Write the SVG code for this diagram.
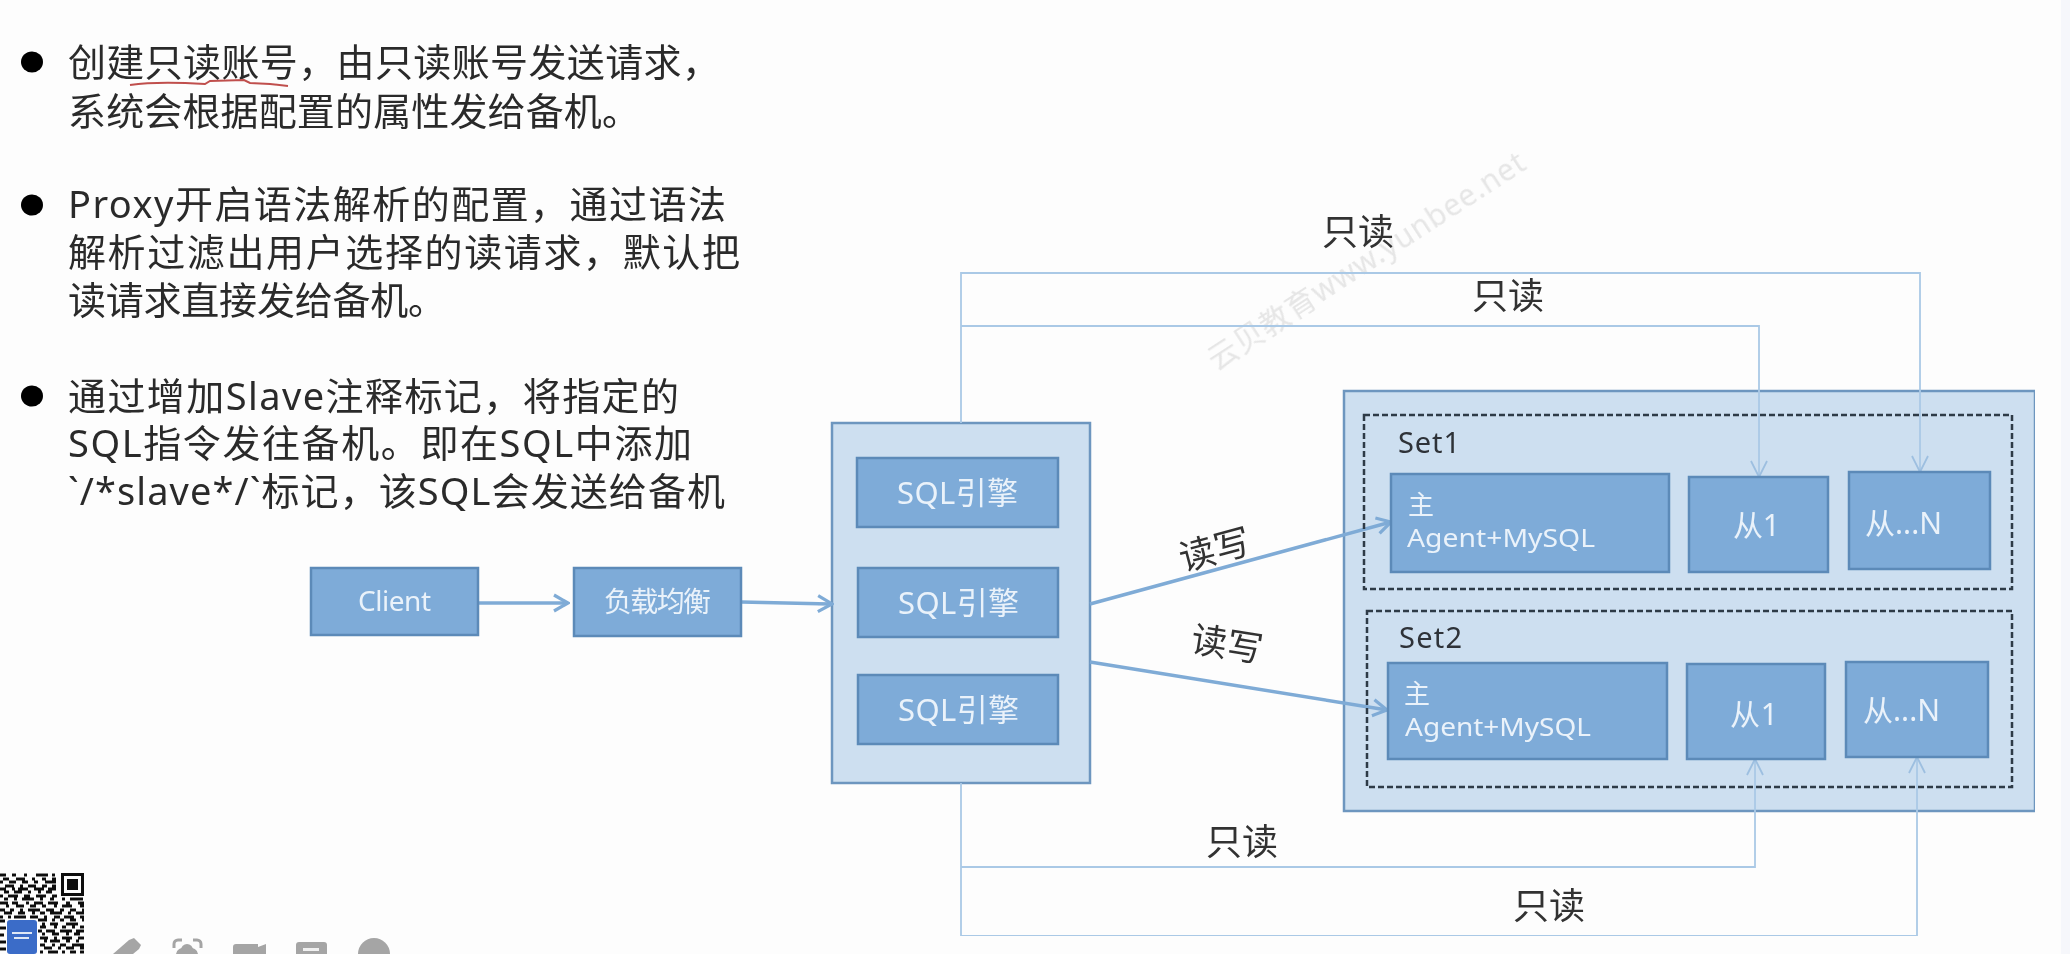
<svg xmlns="http://www.w3.org/2000/svg" width="2070" height="954" viewBox="0 0 2070 954">
<defs>
<style>
text{font-family:"Noto Sans","Noto Sans CJK SC",sans-serif}
.body{font-size:38px;fill:#2b2b2b}
.lbl{font-size:36px;fill:#333;text-anchor:middle}
.box{fill:#7eabd8;stroke:#5c8ab8;stroke-width:2.5}
.pale{fill:#cddff0;stroke:#6d96bf;stroke-width:2.5}
.dash{fill:none;stroke:#2f3a46;stroke-width:2.5;stroke-dasharray:6 3}
.w{font-size:28px;fill:#eaf2fa}
.m{font-size:26px;fill:#eaf2fa}
.e{font-size:31px;fill:#eaf2fa}
.s{font-size:30px;fill:#eaf2fa}
.set{font-size:29px;fill:#2f3338}
.thin{fill:none;stroke:#aac9e6;stroke-width:1.8}
.thick{fill:none;stroke:#7fabd6;stroke-width:3.5}
.ico{fill:#a5a5a5}
</style>
<marker id="ah" viewBox="0 0 20 20" refX="18" refY="10" markerWidth="20" markerHeight="20" markerUnits="userSpaceOnUse" orient="auto"><path d="M4 2L18 10L4 18" fill="none" stroke="#7fabd6" stroke-width="3.2"/></marker>
<marker id="at" viewBox="0 0 20 20" refX="18" refY="10" markerWidth="20" markerHeight="20" markerUnits="userSpaceOnUse" orient="auto"><path d="M2 2L18 10L2 18" fill="none" stroke="#9dbfe0" stroke-width="1.8"/></marker>
<filter id="soft" x="-5%" y="-5%" width="110%" height="110%"><feGaussianBlur stdDeviation="0.7"/></filter>
<filter id="haze" x="0" y="0" width="100%" height="100%"><feGaussianBlur stdDeviation="0.45"/></filter>
</defs>
<rect width="2070" height="954" fill="#fdfdfd"/>
<rect x="2061" y="0" width="9" height="954" fill="#f6f7fb"/>

<g filter="url(#haze)">
<g id="bullets">
<ellipse cx="32" cy="62" rx="11" ry="10.5" fill="#000"/>
<ellipse cx="32" cy="205" rx="11" ry="10.5" fill="#000"/>
<ellipse cx="32" cy="396" rx="11" ry="10.5" fill="#000"/>
</g>
<g id="notes">
<text class="body"><tspan x="68" y="76" textLength="652">创建只读账号，由只读账号发送请求，</tspan><tspan x="68" y="125" textLength="572">系统会根据配置的属性发给备机。</tspan></text>
<text class="body"><tspan x="68" y="218" textLength="658">Proxy开启语法解析的配置，通过语法</tspan><tspan x="68" y="266" textLength="672">解析过滤出用户选择的读请求，默认把</tspan><tspan x="68" y="314" textLength="378">读请求直接发给备机。</tspan></text>
<text class="body"><tspan x="68" y="410" textLength="611">通过增加Slave注释标记，将指定的</tspan><tspan x="68" y="457" textLength="624">SQL指令发往备机。即在SQL中添加</tspan><tspan x="68" y="505" textLength="657">`/*slave*/`标记，该SQL会发送给备机</tspan></text>
<path d="M130 85C150 82 175 82 205 84L210 81L244 80L250 83L270 84L288 86" fill="none" stroke="#c0504d" stroke-width="2"/>
</g>

<text id="watermark" x="1216" y="371" font-size="30" fill="#e6e6e6" transform="rotate(-33 1216 371)" textLength="372">云贝教育www.yunbee.net</text>

<g id="node-set-outer"><rect class="pale" x="1344" y="391" width="691" height="420"/></g>
<g id="node-proxy"><rect class="pale" x="832" y="423" width="258" height="360"/></g>

<g id="connectors">
<path class="thick" d="M478 603H568" marker-end="url(#ah)"/>
<path class="thick" d="M741 602L832 604" marker-end="url(#ah)"/>
<path class="thick" d="M1090 604L1391 522" marker-end="url(#ah)"/>
<path class="thick" d="M1090 662L1387 710" marker-end="url(#ah)"/>
<path class="thin" d="M961 423V273H1920V472" marker-end="url(#at)"/>
<path class="thin" d="M961 326H1759V477" marker-end="url(#at)"/>
<path class="thin" d="M961 783V936H1917V757" marker-end="url(#at)"/>
<path class="thin" d="M961 867H1755V759" marker-end="url(#at)"/>
</g>

<g id="node-client"><rect class="box" x="311" y="568" width="167" height="67"/><text class="w" x="358" y="611" textLength="73">Client</text></g>
<g id="node-lb"><rect class="box" x="574" y="568" width="167" height="68"/><text class="w" x="604" y="612" textLength="107">负载均衡</text></g>
<g id="node-sql1"><rect class="box" x="857" y="458" width="201" height="69"/><text class="e" x="897" y="504" textLength="121">SQL引擎</text></g>
<g id="node-sql2"><rect class="box" x="858" y="568" width="200" height="69"/><text class="e" x="898" y="614" textLength="121">SQL引擎</text></g>
<g id="node-sql3"><rect class="box" x="858" y="675" width="200" height="69"/><text class="e" x="898" y="721" textLength="121">SQL引擎</text></g>

<g id="node-set1">
<rect class="dash" x="1364" y="415" width="648" height="174"/>
<text class="set" x="1398" y="453" textLength="62">Set1</text>
</g>
<g id="node-set2">
<rect class="dash" x="1367" y="611" width="645" height="176"/>
<text class="set" x="1399" y="648" textLength="63">Set2</text>
</g>
<g id="node-s1-master"><rect class="box" x="1391" y="474" width="278" height="98"/><text class="m" x="1408" y="514">主</text><text class="m" x="1407" y="547" textLength="188" lengthAdjust="spacingAndGlyphs">Agent+MySQL</text></g>
<g id="node-s1-slave1"><rect class="box" x="1689" y="477" width="139" height="95"/><text class="s" x="1733" y="536" textLength="47">从1</text></g>
<g id="node-s1-slaven"><rect class="box" x="1849" y="472" width="141" height="97"/><text class="s" x="1865" y="534" textLength="77">从...N</text></g>
<g id="node-s2-master"><rect class="box" x="1388" y="663" width="279" height="96"/><text class="m" x="1404" y="703">主</text><text class="m" x="1405" y="736" textLength="186" lengthAdjust="spacingAndGlyphs">Agent+MySQL</text></g>
<g id="node-s2-slave1"><rect class="box" x="1687" y="664" width="138" height="95"/><text class="s" x="1730" y="725" textLength="48">从1</text></g>
<g id="node-s2-slaven"><rect class="box" x="1846" y="662" width="142" height="95"/><text class="s" x="1863" y="721" textLength="77">从...N</text></g>

<g id="labels">
<text class="lbl" x="1358" y="245">只读</text>
<text class="lbl" x="1508" y="309">只读</text>
<text class="lbl" x="1242" y="855">只读</text>
<text class="lbl" x="1549" y="919">只读</text>
<text class="lbl" x="0" y="0" transform="translate(1218 562) rotate(-15)">读写</text>
<text class="lbl" x="0" y="0" transform="translate(1225 657) rotate(9)">读写</text>
</g>
</g>

<g id="qr" filter="url(#soft)">
<path d="M61 873h23v23h-23zM64 876v17h17v-17z" fill="#111" fill-rule="evenodd"/>
<rect x="67" y="879" width="11" height="11" fill="#111"/>
<path fill="none" stroke="#111" stroke-width="3.2" d="M0 875h6M12 875h4M24 875h3M36 875h12M52 875h3M3 879h6M16 879h9M32 879h3M42 879h4M52 879h4M0 882h3M9 882h7M22 882h6M34 882h4M45 882h11M5 886h9M20 886h3M28 886h8M42 886h5M52 886h4M0 889h6M12 889h3M18 889h10M34 889h10M48 889h8M4 892h5M14 892h8M28 892h3M38 892h3M46 892h6M0 896h3M8 896h10M24 896h6M36 896h10M52 896h5M4 899h4M14 899h3M22 899h12M40 899h3M50 899h4M62 899h3M70 899h13M0 903h8M12 903h6M26 903h3M34 903h9M48 903h10M66 903h4M78 903h6M6 906h3M16 906h8M30 906h6M42 906h4M54 906h3M62 906h10M80 906h4M0 910h5M10 910h4M20 910h3M28 910h12M46 910h8M60 910h4M70 910h6M82 910h2M4 913h8M18 913h7M32 913h3M40 913h5M50 913h12M68 913h3M76 913h8M0 917h3M8 917h3M14 917h12M30 917h8M44 917h3M54 917h6M64 917h10M80 917h4M38 920h9M52 920h3M60 920h4M70 920h6M82 920h2M42 924h3M50 924h8M66 924h12M40 927h6M54 927h3M62 927h4M72 927h3M80 927h4M38 931h4M46 931h9M60 931h12M76 931h8M42 934h3M52 934h7M66 934h3M74 934h6M40 938h8M54 938h3M62 938h10M78 938h6M44 941h3M50 941h10M66 941h4M76 941h3M40 945h5M52 945h3M60 945h6M72 945h12M44 948h8M58 948h3M66 948h8M80 948h4M40 952h3M48 952h10M62 952h3M70 952h6M80 952h4M0 921h5M0 928h6M0 935h4M0 942h6M0 949h6"/>
<rect x="7" y="920" width="30" height="34" rx="3" fill="#3a6cc8"/>
<path d="M12 933h20M14 938h15" stroke="#dfe8f6" stroke-width="2"/>
</g>
<g id="toolbar" filter="url(#soft)">
<path class="ico" d="M113 954L129 940L134 938L141 945L139 949L133 954Z"/>
<path d="M174 948v-4a4 4 0 0 1 4-4h4M193 940h4a4 4 0 0 1 4 4v4" fill="none" stroke="#a5a5a5" stroke-width="3"/>
<circle class="ico" cx="187" cy="950" r="6"/>
<path class="ico" d="M176 954a11 7 0 0 1 22 0Z"/>
<path class="ico" d="M233 947a3 3 0 0 1 3-3h22v3l8-3v10h-33Z"/>
<path class="ico" d="M296 945a3 3 0 0 1 3-3h25a3 3 0 0 1 3 3v9h-31Z"/>
<rect x="303" y="948" width="16" height="3" fill="#f0f0f0"/>
<path class="ico" d="M358 954a16 16 0 0 1 32 0Z"/>
</g>
</svg>
